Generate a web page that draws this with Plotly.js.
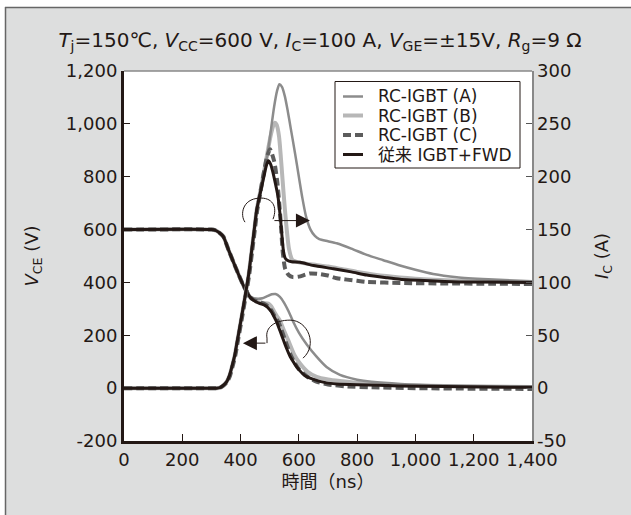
<!DOCTYPE html>
<html><head><meta charset="utf-8">
<script src="https://cdn.plot.ly/plotly-3.0.1.min.js"></script>
<style>html,body{margin:0;padding:0;background:#fff}#chart{width:631px;height:515px}</style>
</head><body><div id="chart"></div>
<script>
// ---- series names ----
const seriesNames = ['RC-IGBT (A)', 'RC-IGBT (B)', 'RC-IGBT (C)', '従来 IGBT+FWD'];

// ---- collector current I_C (A), right axis ----
const tIcA = [0,300,318,329,340,352,362,370,380,387,400,415,428,438,447,455,464,472,484,495,505,515,525,533,542,552,562,572,587,600,612,625,640,655,670,700,730,780,833,890,947,1000,1061,1142,1250,1400];
const icA  = [0,0,0,0.5,2.5,6,12,20,31,42,62,86,108,130,150,168,181,193,208,226,246,266,281,287.5,285,276,262,246,222,200,180,162,150,144,141,139,137,132,126,121,116,112,108,105,103,101];

const tIcB = [0,300,318,329,340,352,362,370,380,387,400,415,428,438,447,455,464,472,484,495,505,512,518,524,532,540,548,556,566,578,593,620,660,700,750,800,900,1000,1150,1250,1400];
const icB  = [0,0,0,0.5,2.5,6,12,20,31,42,62,86,108,130,150,168,181,192,210,227,241,248,251,249,238,212,183,157,132,121,119.5,118,116.5,115,112.5,110,106,103.5,101.5,100.8,100];

const tIcC = [0,300,320,330,342,354,364,372,382,389,402,417,430,440,449,457,466,474,482,490,501,515,526,537,545,553,565,580,600,638,670,700,730,800,833,950,1100,1250,1400];
const icC  = [0,0,0,0.5,2.5,6,12,20,31,42,62,86,108,130,150,168,182,195,207,218,226,215,195,160,128,113,107,105,105.5,108.5,108,106.5,104,101.5,100.5,99.5,99,98.8,98.5];

const tIcD = [0,300,318,329,340,352,362,370,380,387,400,415,428,438,447,455,464,472,480,488,495,503,512,520,528,537,547,553,560,575,604,650,718,780,833,900,947,1050,1150,1250,1400];
const icD  = [0,0,0,0.5,2.5,6,12,20,31,42,62,86,108,130,150,168,180,190,200,210,215,212,203,193,182,160,130,123,121,119.5,119,116,113,110,107,104.5,103,101.5,100.5,100.3,100];

// ---- collector-emitter voltage V_CE (V), left axis ----
const tVA = [0,300,312,325,341,358,375,392,409,421,432,445,460,475,490,507,520,535,550,565,581,600,627,660,695,741,800,850,950,1100,1250,1400];
const vA  = [600,600,598,590,573,525,478,433,390,365,348,340,338,340,347,355,356,345,322,290,250,210,165,120,80,50,32,24,16,10,7,5];

const tVB = [0,300,312,325,341,358,375,392,409,421,432,445,460,480,495,505,515,525,535,550,564,585,604,630,661,700,741,800,900,1050,1250,1400];
const vB  = [600,600,598,590,573,525,478,433,390,365,345,334,326,322,320,310,290,272,255,215,180,125,93,62,43,33,27,20,13,9,6,4];

const tVC = [0,300,312,325,341,358,375,392,409,421,432,445,458,470,482,495,508,518,530,540,550,560,570,585,600,627,660,700,760,850,1000,1200,1400];
const vC  = [600,600,598,590,573,525,478,433,390,365,345,334,328,324,318,308,290,270,250,222,190,160,130,97,72,45,25,14,7,3,0,-2,-3];

const tVD = [0,300,312,325,341,358,375,392,409,421,432,445,458,470,482,493,505,515,524,536,547,558,570,585,600,620,650,695,730,800,878,950,1100,1250,1400];
const vD  = [600,600,598,590,573,525,478,433,390,365,345,332,324,319,314,306,290,270,250,215,182,150,120,93,70,48,33,20,16,13,11,8,6,4,3];

// ---- ticks ----
const xTickVals = [0,200,400,600,800,1000,1200,1400];
const xTickText = ['0','200','400','600','800','1,000','1,200','1,400'];
const yTickVals = [-200,0,200,400,600,800,1000,1200];
const yTickText = ['-200','0','200','400','600','800','1,000','1,200'];
const y2TickVals = [-50,0,50,100,150,200,250,300];
const y2TickText = ['-50','0','50','100','150','200','250','300'];

// ---- styles ----
const styles = [
  {color:'#8c8c8c', width:2.5, dash:'solid'},
  {color:'#b7b7b7', width:4, dash:'solid'},
  {color:'#5c5c5c', width:4, dash:'8px,4px'},
  {color:'#231815', width:3, dash:'solid'}
];
const ic = [[tIcA,icA],[tIcB,icB],[tIcC,icC],[tIcD,icD]];
const vc = [[tVA,vA],[tVB,vB],[tVC,vC],[tVD,vD]];
const drawOrder = [1,0,2,3];
const traces = [];
drawOrder.forEach(i => {
  traces.push({x:vc[i][0], y:vc[i][1], type:'scatter', mode:'lines', yaxis:'y', name:seriesNames[i],
    line:{color:styles[i].color, width:styles[i].width, dash:styles[i].dash, shape:'spline', smoothing:0.6},
    showlegend:false, hoverinfo:'skip'});
});
drawOrder.forEach(i => {
  traces.push({x:ic[i][0], y:ic[i][1], type:'scatter', mode:'lines', yaxis:'y2', name:seriesNames[i],
    line:{color:styles[i].color, width:styles[i].width, dash:styles[i].dash, shape:'spline', smoothing:0.6},
    showlegend:false, hoverinfo:'skip'});
});

const font = "'DejaVu Sans', 'Noto Sans CJK JP', sans-serif";
const txt = '#231815';
const L = 124, R = 532, T = 71, B = 441;
const px = x => (x - L) / (R - L);
const py = y => (B - y) / (B - T);

// legend (drawn as a box, sample lines and texts)
const legBox = {x0:335, x1:520, y0:81.5, y1:168};
const legRowY = [96.5, 115.5, 135, 154.5];
const shapes = [
  {type:'line', xref:'paper', yref:'paper', x0:0, x1:1, y0:1, y1:1, line:{color:'#888', width:1.5}},
  {type:'rect', xref:'paper', yref:'paper', x0:px(-10), x1:px(5), y0:py(530), y1:py(-10), fillcolor:'#fff', line:{width:0}, layer:'above'},
  {type:'rect', xref:'paper', yref:'paper', x0:px(-10), x1:px(640), y0:py(7), y1:py(-10), fillcolor:'#fff', line:{width:0}, layer:'above'},
  {type:'line', xref:'paper', yref:'paper', x0:px(5.5), x1:px(5.5), y0:py(7), y1:py(530), line:{color:'#666', width:1.5}},
  {type:'line', xref:'paper', yref:'paper', x0:px(5), x1:px(640), y0:py(7.5), y1:py(7.5), line:{color:'#666', width:1.5}},
  {type:'path', xref:'x', yref:'y', path:'M415.2,628.1 C398.0,654.6 404.9,715.1 463.2,718.9 C507.8,722.7 528.4,688.6 511.3,639.4', line:{color:txt, width:1}},
  {type:'path', xref:'x', yref:'y', path:'M614.2,113.5 C665.7,162.7 631.4,257.3 569.6,257.3 C518.1,257.3 483.8,230.8 490.7,189.2 L490.7,170.3', line:{color:txt, width:1}},
  {type:'rect', xref:'paper', yref:'paper', x0:px(legBox.x0), x1:px(legBox.x1), y0:py(legBox.y1), y1:py(legBox.y0), fillcolor:'#fff', line:{color:txt, width:1}, layer:'above'}
];
const annotations = [
  {x:638, y:634, xref:'x', yref:'y', text:'', showarrow:true, ax:-37, ay:0, arrowhead:2, arrowsize:2.8, arrowwidth:1, arrowcolor:txt, standoff:0},
  {x:408, y:170.3, xref:'x', yref:'y', text:'', showarrow:true, ax:24, ay:0, arrowhead:2, arrowsize:2.8, arrowwidth:1, arrowcolor:txt, standoff:0}
];
seriesNames.forEach((n, i) => {
  shapes.push({type:'line', xref:'paper', yref:'paper', x0:px(343), x1:px(363), y0:py(legRowY[i]), y1:py(legRowY[i]),
    line:{color:styles[i].color, width:styles[i].width, dash:styles[i].dash}, layer:'above'});
  annotations.push({x:px(376), y:py(legRowY[i]), xref:'paper', yref:'paper', xanchor:'left', yanchor:'middle',
    text:n, showarrow:false, font:{size:17, color:txt}});
});

const layout = {
  width:631, height:515,
  margin:{l:124, r:99, t:71, b:74, pad:0},
  paper_bgcolor:'#dddede', plot_bgcolor:'#ffffff',
  font:{family:font, color:txt, size:18},
  showlegend:false,
  title:{text:'<i>T</i><sub>j</sub>=150℃, <i>V</i><sub>CC</sub>=600 V, <i>I</i><sub>C</sub>=100 A, <i>V</i><sub>GE</sub>=±15V, <i>R</i><sub>g</sub>=9 Ω',
    x:320/631, xref:'container', xanchor:'center', y:1-40/515, yref:'container', yanchor:'middle',
    font:{family:font, size:20, color:txt}},
  xaxis:{range:[0,1400], tickvals:xTickVals, ticktext:xTickText, ticks:'inside', ticklen:7, tickwidth:1, tickcolor:txt,
    showline:true, linecolor:txt, linewidth:3, showgrid:false, zeroline:false,
    tickfont:{size:18}, title:{text:'時間（ns）', font:{size:18}, standoff:7}},
  yaxis:{range:[-200,1200], tickvals:yTickVals, ticktext:yTickText, ticks:'inside', ticklen:6, tickwidth:1, tickcolor:txt,
    showline:true, linecolor:txt, linewidth:3, showgrid:false, zeroline:false,
    tickfont:{size:18}, title:{text:'<i>V</i><sub>CE</sub> (V)', font:{size:18}, standoff:23}},
  yaxis2:{range:[-50,300], tickvals:y2TickVals, ticktext:y2TickText, overlaying:'y', side:'right', ticks:'inside', ticklen:6, tickwidth:1, tickcolor:'#555',
    showline:true, linecolor:'#888', linewidth:1.5, showgrid:false, zeroline:false,
    tickfont:{size:18}, title:{text:'<i>I</i><sub>C</sub> (A)', font:{size:18}, standoff:25}},
  shapes:shapes,
  annotations:annotations
};
Plotly.newPlot('chart', traces, layout, {staticPlot:true});
</script></body></html>
